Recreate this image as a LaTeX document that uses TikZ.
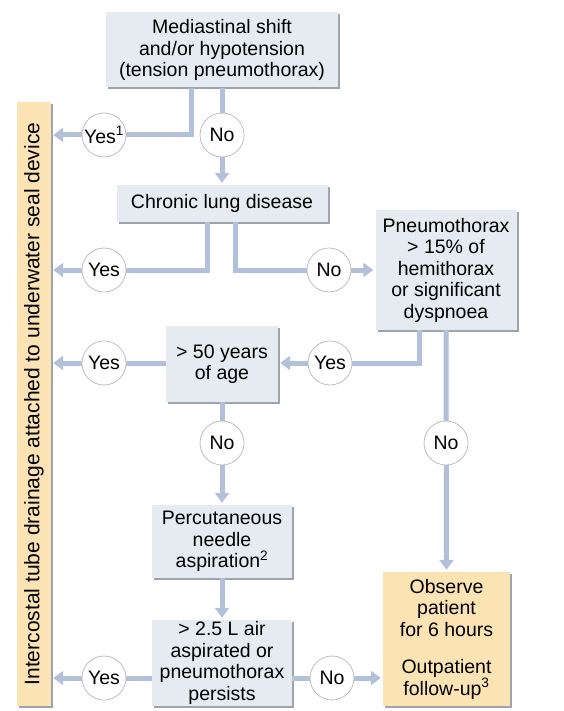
\documentclass[tikz,border=0pt]{standalone}
\usepackage{fontspec}
\setmainfont{Liberation Sans}
\usetikzlibrary{arrows.meta,shadows,calc}
\definecolor{boxfill}{HTML}{E6EBF1}
\definecolor{boxshadow}{HTML}{9EA4AC}
\definecolor{orangefill}{HTML}{FBE3B4}
\definecolor{linecol}{HTML}{B3C0D9}
\definecolor{circborder}{HTML}{B8B8B8}
\tikzset{
  every node/.style={font=\fontsize{19.5}{21.5}\selectfont},
  stepbox/.style={draw=none, fill=boxfill, align=center, inner sep=1pt,
    drop shadow={shadow xshift=2pt, shadow yshift=-2pt, fill=boxshadow, opacity=1}},
  orangebox/.style={stepbox, fill=orangefill},
  decision/.style={circle, draw=circborder, line width=0.7pt, fill=white, minimum size=44pt, inner sep=0pt},
  conn/.style={draw=linecol, line width=5pt},
  arr/.style={conn, -{Triangle[length=10pt,width=14pt]}, shorten >=2pt},
}
\begin{document}
\begin{tikzpicture}[x=1pt,y=-1pt]
\useasboundingbox (0,0) rectangle (563,711);
\fill[white] (0,0) rectangle (563,711);

% boxes
\node[stepbox, minimum width=232pt, minimum height=75pt] (top) at (222,50)
  {Mediastinal shift\\and/or hypotension\\(tension pneumothorax)};
\node[stepbox, minimum width=211pt, minimum height=37pt] (chronic) at (222,203.5)
  {Chronic lung disease};
\node[stepbox, minimum width=141pt, minimum height=120pt] (pneumo) at (446,270)
  {Pneumothorax\\> 15\% of\\hemithorax\\or significant\\dyspnoea};
\node[stepbox, minimum width=112pt, minimum height=76pt] (age) at (222,364)
  {> 50 years\\of age};
\node[stepbox, minimum width=140pt, minimum height=73pt] (perc) at (222,541.5)
  {Percutaneous\\needle\\aspiration\textsuperscript{2}};
\node[stepbox, minimum width=140pt, minimum height=86pt] (air) at (222,663)
  {> 2.5 L air\\aspirated or\\pneumothorax\\persists};
\node[orangebox, minimum width=127pt, minimum height=134pt] (observe) at (446.5,639)
  {Observe\\patient\\for 6 hours\\[16pt]Outpatient\\follow-up\textsuperscript{3}};
\node[orangebox, minimum width=34pt, minimum height=604pt, inner sep=0pt] (bar) at (34,404)
  {\rotatebox{90}{\fontsize{21}{24}\selectfont Intercostal tube drainage attached to underwater seal device}};

% decision circle positions
\coordinate (yes1) at (104,135);
\coordinate (no1) at (222,135);
\coordinate (yes2) at (104,270);
\coordinate (no2) at (329,270);
\coordinate (yes3) at (104,363);
\coordinate (yes4) at (330,363);
\coordinate (no3) at (222,443);
\coordinate (no4) at (446,443);
\coordinate (yes5) at (104,678);
\coordinate (no5) at (332,678);

% connectors
\draw[arr] ([xshift=-31pt]top.south) |- (bar.east |- yes1);
\draw[arr] (top.south) -- (chronic.north);
\draw[arr] ([xshift=-15pt]chronic.south) |- (bar.east |- yes2);
\draw[arr] ([xshift=13pt]chronic.south) |- (pneumo.west |- no2);
\draw[arr] ([xshift=-27pt]pneumo.south) |- (age.east |- yes4);
\draw[arr] (age.west |- yes3) -- (bar.east |- yes3);
\draw[arr] (age.south) -- (perc.north);
\draw[arr] (pneumo.south) -- (observe.north);
\draw[arr] (perc.south) -- (air.north);
\draw[arr] (air.west |- yes5) -- (bar.east |- yes5);
\draw[arr] (air.east |- no5) -- (observe.west |- no5);

% decisions
\node[decision] (dyes1) at (yes1) {Yes\textsuperscript{1}};
\node[decision] (dno1) at (no1) {No};
\node[decision] (dyes2) at (yes2) {Yes};
\node[decision] (dno2) at (no2) {No};
\node[decision] (dyes3) at (yes3) {Yes};
\node[decision] (dyes4) at (yes4) {Yes};
\node[decision] (dno3) at (no3) {No};
\node[decision] (dno4) at (no4) {No};
\node[decision] (dyes5) at (yes5) {Yes};
\node[decision] (dno5) at (no5) {No};
\end{tikzpicture}
\end{document}
